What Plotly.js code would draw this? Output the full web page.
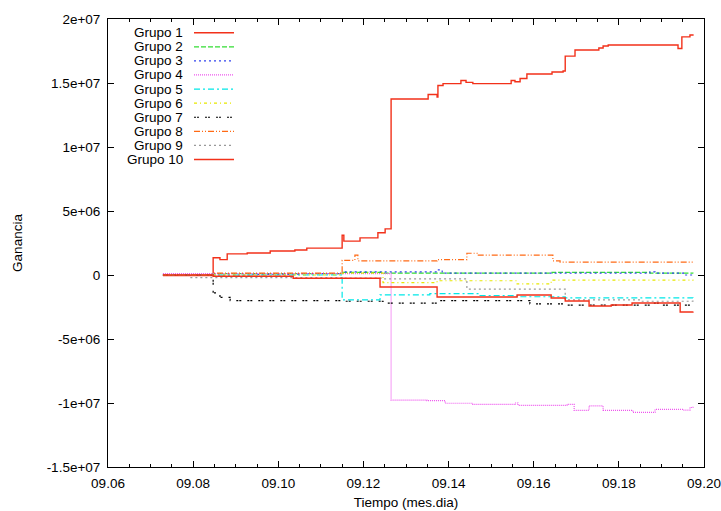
<!DOCTYPE html>
<html>
<head>
<meta charset="utf-8">
<script src="https://cdn.plot.ly/plotly-3.0.1.min.js"></script>
<style>
  html, body { margin: 0; padding: 0; background: #fff; }
  #chart { width: 721px; height: 511px; }
</style>
</head>
<body>
<div id="chart"></div>
<script>
// Ganancia acumulada por grupo, tiempo en formato mes.dia
const groupNames = ['Grupo 1', 'Grupo 2', 'Grupo 3', 'Grupo 4', 'Grupo 5',
                    'Grupo 6', 'Grupo 7', 'Grupo 8', 'Grupo 9', 'Grupo 10'];

const g1T = [9.0729, 9.0847, 9.0863, 9.0880, 9.0927, 9.0981, 9.1039, 9.1067, 9.1150, 9.1154,
             9.1192, 9.1234, 9.1251, 9.1265, 9.1352, 9.1373, 9.1375, 9.1387, 9.1429, 9.1441,
             9.1457, 9.1547, 9.1556, 9.1568, 9.1584, 9.1643, 9.1669, 9.1674, 9.1697, 9.1753,
             9.1763, 9.1775, 9.1939, 9.1948, 9.1967, 9.1974];
const g1V = [-0.05e6, 1.35e6, 1.2e6, 1.65e6, 1.72e6, 1.88e6, 1.95e6, 2.1e6, 3.1e6, 2.65e6,
             2.9e6, 3.3e6, 3.6e6, 13.75e6, 14.1e6, 13.9e6, 14.8e6, 14.95e6, 15.2e6, 15.05e6,
             14.95e6, 15.2e6, 15.1e6, 15.35e6, 15.7e6, 15.86e6, 15.94e6, 17.1e6, 17.58e6, 17.73e6,
             17.89e6, 17.97e6, 17.7e6, 18.6e6, 18.75e6, 18.7e6];

const g2T = [9.0729, 9.0847, 9.1150, 9.1246, 9.1643, 9.1873, 9.1974];
const g2V = [0, 0.1e6, 0.2e6, 0.15e6, 0.2e6, 0.15e6, 0.12e6];

const g3T = [9.0729, 9.0934, 9.1051, 9.1150, 9.1373, 9.1385, 9.1873, 9.1885, 9.1955, 9.1974];
const g3V = [0, 0.05e6, 0.1e6, 0.25e6, 0.4e6, 0.15e6, 0.25e6, 0.15e6, 0.0, 0.05e6];

const g4T = [9.0729, 9.1265, 9.1349, 9.1392, 9.1457, 9.1556, 9.1563, 9.1678, 9.1695, 9.1730,
             9.1763, 9.1833, 9.1885, 9.1951, 9.1967, 9.1974];
const g4V = [0.1e6, -9.77e6, -9.82e6, -10.02e6, -10.1e6, -10.0e6, -10.18e6, -10.1e6, -10.57e6, -10.23e6,
             -10.57e6, -10.73e6, -10.5e6, -10.55e6, -10.35e6, -10.3e6];

const g5T = [9.0729, 9.1150, 9.1239, 9.1356, 9.1474, 9.1561, 9.1674, 9.1974];
const g5V = [0, -1.95e6, -1.55e6, -1.45e6, -1.6e6, -1.7e6, -1.78e6, -1.8e6];

const g6T = [9.0729, 9.1150, 9.1246, 9.1373, 9.1561, 9.1641, 9.1974];
const g6V = [0, 0.15e6, -0.6e6, -0.45e6, -0.7e6, -0.4e6, -0.45e6];

const g7T = [9.0729, 9.0847, 9.0863, 9.0887, 9.1150, 9.1246, 9.1380, 9.1591, 9.1669, 9.1873,
             9.1897, 9.1974];
const g7V = [0, -1.4e6, -1.75e6, -2.0e6, -2.05e6, -2.2e6, -2.0e6, -2.25e6, -2.35e6, -2.2e6,
             -2.35e6, -2.3e6];

const g8T = [9.0729, 9.0847, 9.1150, 9.1180, 9.1187, 9.1373, 9.1443, 9.1467, 9.1645, 9.1662, 9.1974];
const g8V = [0, 0.15e6, 1.15e6, 1.55e6, 1.1e6, 1.2e6, 1.7e6, 1.55e6, 1.1e6, 1.0e6, 1.0e6];

const g9T = [9.0729, 9.0793, 9.1150, 9.1246, 9.1443, 9.1674, 9.1850, 9.1974];
const g9V = [0, -0.2e6, -0.25e6, -0.3e6, -1.1e6, -1.95e6, -2.05e6, -2.0e6];

const g10T = [9.0729, 9.0847, 9.1035, 9.1239, 9.1373, 9.1561, 9.1641, 9.1674, 9.1730, 9.1782,
              9.1831, 9.1944, 9.1974];
const g10V = [0, -0.1e6, -0.25e6, -0.94e6, -1.72e6, -1.56e6, -1.8e6, -2.03e6, -2.42e6, -2.34e6,
              -2.19e6, -2.89e6, -2.85e6];

const yTickVals = [2e7, 1.5e7, 1e7, 5e6, 0, -5e6, -1e7, -1.5e7];
const yTickText = ['2e+07', '1.5e+07', '1e+07', '5e+06', '0', '-5e+06', '-1e+07', '-1.5e+07'];

// line styles per group (gnuplot-like palette and dash patterns)
const styles = [
  { color: '#f2311a', dash: 'solid', width: 1.4 },
  { color: '#33dd33', dash: '5px,2px', width: 1.2 },
  { color: '#3344ee', dash: '2px,3px', width: 1.2 },
  { color: '#ee55ee', dash: '1px,1px', width: 1.2 },
  { color: '#00e8e8', dash: '6px,3px,2px,3px', width: 1.2 },
  { color: '#e8e800', dash: '3px,3px,1px,3px', width: 1.2 },
  { color: '#000000', dash: '2px,1px,2px,6px', width: 1.2 },
  { color: '#ff6a14', dash: '6px,2px,1px,2px,1px,2px', width: 1.2 },
  { color: '#999999', dash: '2px,3px', width: 1.2 },
  { color: '#f2311a', dash: 'solid', width: 1.4 }
];

const series = [[g1T, g1V], [g2T, g2V], [g3T, g3V], [g4T, g4V], [g5T, g5V],
                [g6T, g6V], [g7T, g7V], [g8T, g8V], [g9T, g9V], [g10T, g10V]];

const traces = series.map((s, i) => ({
  type: 'scatter',
  mode: 'lines',
  name: groupNames[i],
  x: s[0],
  y: s[1],
  line: { shape: 'hv', width: styles[i].width, color: styles[i].color, dash: styles[i].dash },
  showlegend: false,
  hoverinfo: 'skip'
}));

// plot frame in pixels
const W = 721, H = 511;
const M = { l: 108, r: 17, t: 19, b: 44 };
const pw = W - M.l - M.r, ph = H - M.t - M.b;
const px2x = p => (p - M.l) / pw;
const py2y = p => (H - M.b - p) / ph;

const FONT = 'Liberation Sans, Helvetica, Arial, sans-serif';
const FS = 13.5;

// key box: right-aligned names followed by a line sample
const shapes = [];
const annotations = [];
groupNames.forEach((name, i) => {
  const yp = py2y(32.7 + 14.09 * i);
  annotations.push({
    xref: 'paper', yref: 'paper', x: px2x(185), y: yp,
    xanchor: 'right', yanchor: 'middle', showarrow: false,
    text: name, font: { family: FONT, size: FS, color: '#000' }
  });
  shapes.push({
    type: 'line', xref: 'paper', yref: 'paper',
    x0: px2x(194), x1: px2x(234), y0: yp, y1: yp,
    line: { color: styles[i].color, width: styles[i].width, dash: styles[i].dash }
  });
});

const layout = {
  width: W, height: H,
  margin: { l: M.l, r: M.r, t: M.t, b: M.b, pad: 0 },
  paper_bgcolor: '#fff', plot_bgcolor: '#fff',
  font: { family: FONT, size: FS, color: '#000' },
  showlegend: false,
  xaxis: {
    range: [9.06, 9.20],
    tickmode: 'linear', tick0: 9.06, dtick: 0.02, tickformat: '05.2f',
    ticks: 'inside', ticklen: 6, tickwidth: 1, tickcolor: '#000',
    minor: { ticks: 'inside', ticklen: 3, dtick: 0.005, tick0: 9.06, tickcolor: '#000', showgrid: false },
    showline: true, linecolor: '#000', linewidth: 1, mirror: 'allticks',
    showgrid: false, zeroline: false,
    ticklabelstandoff: 4,
    tickfont: { family: FONT, size: FS, color: '#000' },
    title: { text: 'Tiempo (mes.dia)', font: { family: FONT, size: FS, color: '#000' }, standoff: 7 }
  },
  yaxis: {
    range: [-1.5e7, 2e7],
    tickmode: 'array', tickvals: yTickVals, ticktext: yTickText,
    ticks: 'inside', ticklen: 6, tickwidth: 1, tickcolor: '#000',
    showline: true, linecolor: '#000', linewidth: 1, mirror: 'allticks',
    showgrid: false, zeroline: false,
    ticklabelstandoff: 4,
    tickfont: { family: FONT, size: FS, color: '#000' },
    title: { text: 'Ganancia', font: { family: FONT, size: FS, color: '#000' }, standoff: 20 }
  },
  shapes: shapes,
  annotations: annotations
};

Plotly.newPlot('chart', traces, layout, { staticPlot: true, displayModeBar: false });
</script>
</body>
</html>
